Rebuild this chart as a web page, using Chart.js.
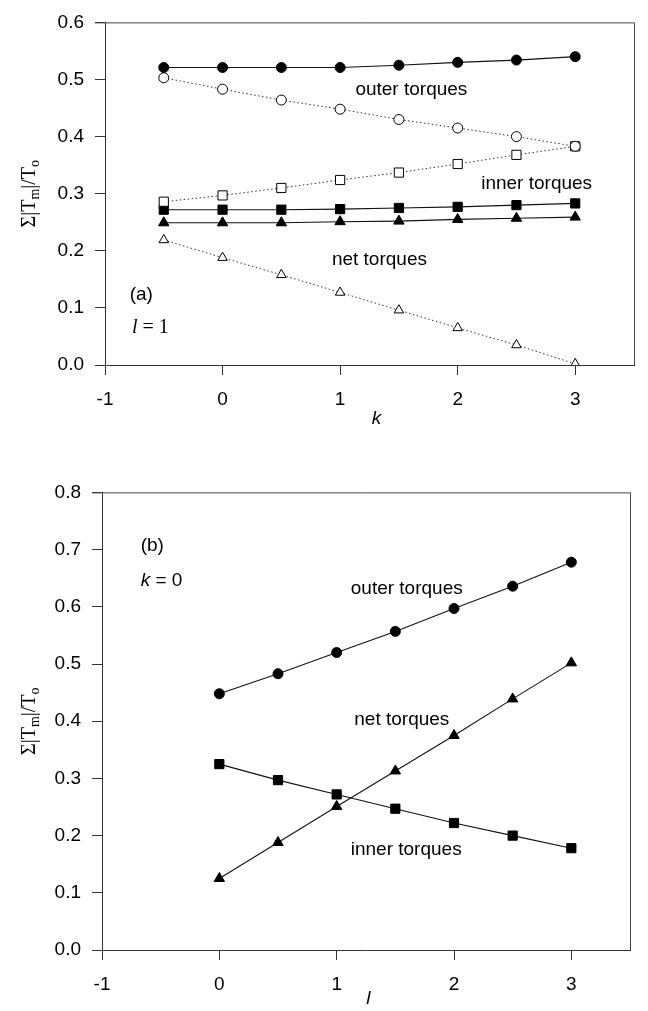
<!DOCTYPE html>
<html>
<head>
<meta charset="utf-8">
<script src="https://cdn.jsdelivr.net/npm/chart.js@4.4.0/dist/chart.umd.min.js"></script>
<style>
  html, body { margin: 0; padding: 0; background: #fff; }
  #wrap { position: relative; width: 648px; height: 1011px; }
  canvas { position: absolute; left: 0; }
  #chartA { top: 0; }
  #chartB { top: 470px; }
</style>
</head>
<body>
<div id="wrap">
  <canvas id="chartA" width="648" height="470"></canvas>
  <canvas id="chartB" width="648" height="541"></canvas>
</div>
<script>
// panel (a): l = 1, k varies
const kValues = [-0.5, 0, 0.5, 1, 1.5, 2, 2.5, 3];
const outerA = [0.521, 0.521, 0.521, 0.521, 0.525, 0.530, 0.534, 0.540];
const outerOpenA = [0.503, 0.483, 0.464, 0.448, 0.430, 0.415, 0.400, 0.383];
const innerOpenA = [0.286, 0.297, 0.310, 0.324, 0.337, 0.352, 0.368, 0.383];
const innerA = [0.272, 0.272, 0.272, 0.273, 0.275, 0.277, 0.280, 0.283];
const netA = [0.249, 0.249, 0.249, 0.251, 0.252, 0.255, 0.257, 0.259];
const netOpenA = [0.219, 0.188, 0.158, 0.127, 0.096, 0.065, 0.035, 0.002];
const xTicksA = [-1, 0, 1, 2, 3];
const yTicksA = [0, 0.1, 0.2, 0.3, 0.4, 0.5, 0.6];

// panel (b): k = 0, l varies
const lValues = [0, 0.5, 1, 1.5, 2, 2.5, 3];
const outerB = [0.448, 0.483, 0.520, 0.557, 0.597, 0.636, 0.678];
const netB = [0.125, 0.188, 0.251, 0.313, 0.375, 0.439, 0.502];
const innerB = [0.325, 0.297, 0.272, 0.247, 0.222, 0.200, 0.178];
const xTicksB = [-1, 0, 1, 2, 3];
const yTicksB = [0, 0.1, 0.2, 0.3, 0.4, 0.5, 0.6, 0.7, 0.8];

const SANS = '"Liberation Sans", Arial, sans-serif';
const SERIF = '"Liberation Serif", "Times New Roman", serif';

function pts(xs, ys) {
  return xs.map((x, i) => ({ x: x, y: ys[i] }));
}

function solidSet(xs, ys, shape, r) {
  return {
    data: pts(xs, ys), showLine: true,
    borderColor: '#111', borderWidth: 1.1,
    pointStyle: shape, pointRadius: r,
    pointBackgroundColor: '#000', pointBorderColor: '#000', pointBorderWidth: 1
  };
}

function dottedSet(xs, ys, shape, r) {
  return {
    data: pts(xs, ys), showLine: true,
    borderColor: '#333', borderWidth: 1, borderDash: [1.5, 2.5],
    pointStyle: shape, pointRadius: r,
    pointBackgroundColor: '#fff', pointBorderColor: '#000', pointBorderWidth: 1
  };
}

// draw a row of text runs (for subscripts / mixed fonts)
function drawRuns(ctx, x, y, runs) {
  let cx = x;
  runs.forEach(r => {
    ctx.font = r.font;
    ctx.fillText(r.t, cx, y + (r.dy || 0));
    cx += ctx.measureText(r.t).width;
  });
}
function runsWidth(ctx, runs) {
  let w = 0;
  runs.forEach(r => { ctx.font = r.font; w += ctx.measureText(r.t).width; });
  return w;
}

const yTitleRuns = [
  { t: 'Σ|T', font: '20px ' + SERIF },
  { t: 'm', font: '14px ' + SERIF, dy: 5 },
  { t: '|/T', font: '20px ' + SERIF },
  { t: 'o', font: '14px ' + SERIF, dy: 5 }
];

const framePlugin = {
  id: 'frame',
  afterDraw(chart) {
    const a = chart.chartArea;
    const ctx = chart.ctx;
    ctx.save();
    ctx.strokeStyle = '#444';
    ctx.lineWidth = 1;
    ctx.beginPath();
    ctx.moveTo(a.left - 10, a.top + 0.5);
    ctx.lineTo(a.right + 0.5, a.top + 0.5);
    ctx.lineTo(a.right + 0.5, a.bottom);
    ctx.stroke();
    ctx.restore();
  }
};

const textPlugin = {
  id: 'panelText',
  afterDraw(chart, args, opts) {
    const ctx = chart.ctx;
    const xs = chart.scales.x, ys = chart.scales.y;
    const a = chart.chartArea;
    ctx.save();
    ctx.fillStyle = '#000';
    ctx.textBaseline = 'middle';
    ctx.textAlign = 'left';
    (opts.notes || []).forEach(n => {
      drawRuns(ctx, xs.getPixelForValue(n.x), ys.getPixelForValue(n.y), n.runs);
    });
    // x-axis title
    ctx.textAlign = 'center';
    ctx.font = 'italic 19px ' + SANS;
    ctx.fillText(opts.xTitle, xs.getPixelForValue(opts.xTitleAt), a.bottom + opts.xTitleGap);
    // y-axis title, rotated
    ctx.textAlign = 'left';
    ctx.translate(30, (a.top + a.bottom) / 2);
    ctx.rotate(-Math.PI / 2);
    const w = runsWidth(ctx, yTitleRuns);
    drawRuns(ctx, -w / 2, 0, yTitleRuns);
    ctx.restore();
  }
};

function makeOptions(cfg) {
  return {
    responsive: false,
    animation: false,
    devicePixelRatio: 1,
    layout: { padding: { top: cfg.padTop, right: cfg.padRight, left: 0, bottom: 0 } },
    plugins: {
      legend: { display: false },
      tooltip: { enabled: false },
      panelText: cfg.text
    },
    scales: {
      x: {
        type: 'linear', min: -1, max: 3.5,
        afterFit: s => { s.height = cfg.xAxisH; },
        afterBuildTicks: s => { s.ticks = cfg.xTicks.map(v => ({ value: v })); },
        grid: { drawOnChartArea: false, drawTicks: true, tickLength: 10, color: '#333' },
        border: { display: true, color: '#333', width: 1 },
        ticks: { color: '#000', font: { family: SANS, size: 19 }, padding: 13,
                 callback: v => String(v) }
      },
      y: {
        type: 'linear', min: 0, max: cfg.yMax,
        afterFit: s => { s.width = cfg.yAxisW; },
        afterBuildTicks: s => { s.ticks = cfg.yTicks.map(v => ({ value: v })); },
        grid: { drawOnChartArea: false, drawTicks: true, tickLength: 10, color: '#333' },
        border: { display: true, color: '#333', width: 1 },
        ticks: { color: '#000', font: { family: SANS, size: 19 }, padding: 11,
                 callback: v => Number(v).toFixed(1) }
      }
    }
  };
}

const noteFont = '19px ' + SANS;

new Chart(document.getElementById('chartA'), {
  type: 'scatter',
  data: {
    datasets: [
      solidSet(kValues, outerA, 'circle', 5),
      dottedSet(kValues, outerOpenA, 'circle', 5),
      dottedSet(kValues, innerOpenA, 'rect', 6.5),
      solidSet(kValues, innerA, 'rect', 6.5),
      solidSet(kValues, netA, 'triangle', 6),
      dottedSet(kValues, netOpenA, 'triangle', 5.5)
    ]
  },
  options: makeOptions({
    padTop: 14, padRight: 14, xAxisH: 105, yAxisW: 105, yMax: 0.6,
    xTicks: xTicksA, yTicks: yTicksA,
    text: {
      xTitle: 'k', xTitleAt: 1.31, xTitleGap: 54,
      notes: [
        { x: 1.13, y: 0.482, runs: [{ t: 'outer torques', font: noteFont }] },
        { x: 2.20, y: 0.318, runs: [{ t: 'inner torques', font: noteFont }] },
        { x: 0.93, y: 0.185, runs: [{ t: 'net torques', font: noteFont }] },
        { x: -0.79, y: 0.123, runs: [{ t: '(a)', font: noteFont }] },
        { x: -0.77, y: 0.065, runs: [{ t: 'l', font: 'italic 20px ' + SERIF },
                                     { t: ' = 1', font: '20px ' + SERIF }] }
      ]
    }
  }),
  plugins: [framePlugin, textPlugin]
});

new Chart(document.getElementById('chartB'), {
  type: 'scatter',
  data: {
    datasets: [
      solidSet(lValues, outerB, 'circle', 5),
      solidSet(lValues, netB, 'triangle', 6),
      solidSet(lValues, innerB, 'rect', 6.5)
    ]
  },
  options: makeOptions({
    padTop: 12, padRight: 18, xAxisH: 61, yAxisW: 102, yMax: 0.8,
    xTicks: xTicksB, yTicks: yTicksB,
    text: {
      xTitle: 'l', xTitleAt: 1.27, xTitleGap: 49,
      notes: [
        { x: -0.67, y: 0.706, runs: [{ t: '(b)', font: noteFont }] },
        { x: -0.67, y: 0.646, runs: [{ t: 'k', font: 'italic 19px ' + SANS },
                                     { t: ' = 0', font: noteFont }] },
        { x: 1.12, y: 0.632, runs: [{ t: 'outer torques', font: noteFont }] },
        { x: 1.15, y: 0.402, runs: [{ t: 'net torques', font: noteFont }] },
        { x: 1.12, y: 0.176, runs: [{ t: 'inner torques', font: noteFont }] }
      ]
    }
  }),
  plugins: [framePlugin, textPlugin]
});
</script>
</body>
</html>
